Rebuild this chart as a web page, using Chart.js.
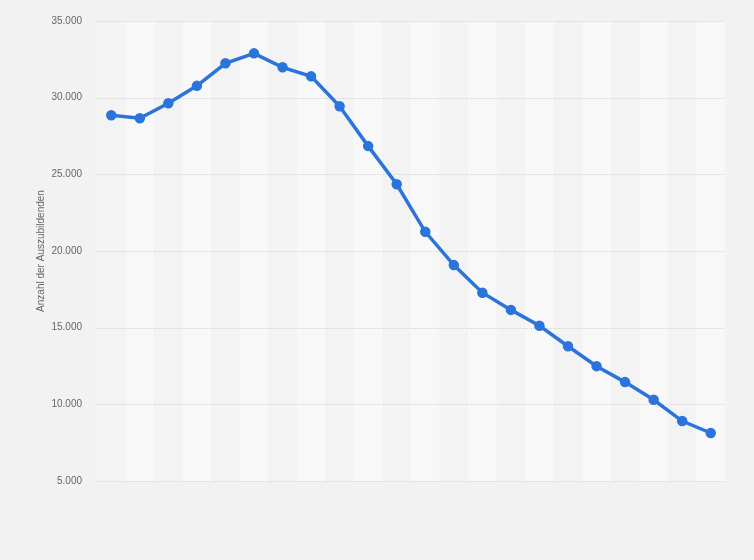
<!DOCTYPE html>
<html>
<head>
<meta charset="utf-8">
<script src="https://cdn.jsdelivr.net/npm/chart.js@4/dist/chart.umd.min.js"></script>
<style>
  html, body { margin: 0; padding: 0; background: #f2f2f2; }
  #wrap { width: 754px; height: 560px; }
</style>
</head>
<body>
<div id="wrap"><canvas id="grafico"></canvas></div>
<script>
// Kategorien (Achsenbeschriftung im Original nicht sichtbar)
const kategorien = ['1', '2', '3', '4', '5', '6', '7', '8', '9', '10', '11',
  '12', '13', '14', '15', '16', '17', '18', '19', '20', '21', '22'];
const auszubildende = [28850, 28660, 29640, 30770, 32240, 32890, 31980, 31390,
  29440, 26840, 24350, 21250, 19080, 17280, 16160, 15120, 13790, 12490,
  11450, 10300, 8910, 8130];
const yTicks = [5000, 10000, 15000, 20000, 25000, 30000, 35000];

// Hintergrundstreifen je Kategorie
const streifen = {
  id: 'streifen',
  beforeDatasetsDraw(chart) {
    const { ctx, chartArea, scales } = chart;
    const x = scales.x;
    const w = x.getPixelForValue(1) - x.getPixelForValue(0);
    ctx.save();
    kategorien.forEach((k, i) => {
      const cx = x.getPixelForValue(i);
      ctx.fillStyle = i % 2 ? '#f8f8f8' : '#f3f3f3';
      ctx.fillRect(cx - w / 2, chartArea.top, w, chartArea.bottom - chartArea.top);
    });
    ctx.restore();
  }
};

// Gitterlinien über den Streifen
const gitter = {
  id: 'gitter',
  beforeDatasetsDraw(chart) {
    const { ctx, chartArea, scales } = chart;
    ctx.save();
    ctx.strokeStyle = '#d4d4d4';
    ctx.lineWidth = 1;
    ctx.setLineDash([1, 1]);
    yTicks.forEach(v => {
      const y = Math.round(scales.y.getPixelForValue(v)) + 0.5;
      ctx.beginPath();
      ctx.moveTo(chartArea.left, y);
      ctx.lineTo(chartArea.right, y);
      ctx.stroke();
    });
    ctx.restore();
  }
};

new Chart(document.getElementById('grafico'), {
  type: 'line',
  data: {
    labels: kategorien,
    datasets: [{
      label: 'Anzahl der Auszubildenden',
      data: auszubildende,
      borderColor: '#2a74db',
      backgroundColor: '#2a74db',
      borderWidth: 3.5,
      pointRadius: 3.5,
      pointHoverRadius: 3.5,
      tension: 0
    }]
  },
  options: {
    responsive: true,
    maintainAspectRatio: false,
    animation: false,
    layout: { padding: { left: 35, right: 29, top: 18, bottom: 79 } },
    plugins: {
      legend: { display: false },
      tooltip: { enabled: false }
    },
    scales: {
      x: {
        display: false,
        offset: true
      },
      y: {
        min: 5000,
        max: 35000,
        afterFit(scale) { scale.width = 62; },
        afterBuildTicks(scale) { scale.ticks = yTicks.map(v => ({ value: v })); },
        grid: { display: false, drawTicks: false },
        border: { display: false },
        ticks: {
          padding: 15,
          color: '#666',
          font: { family: 'Liberation Sans, Arial, sans-serif', size: 10 },
          callback: v => v.toLocaleString('de-DE')
        },
        title: {
          display: true,
          text: 'Anzahl der Auszubildenden',
          color: '#666',
          padding: 0,
          font: { family: 'Liberation Sans, Arial, sans-serif', size: 10 }
        }
      }
    }
  },
  plugins: [streifen, gitter]
});
</script>
</body>
</html>
